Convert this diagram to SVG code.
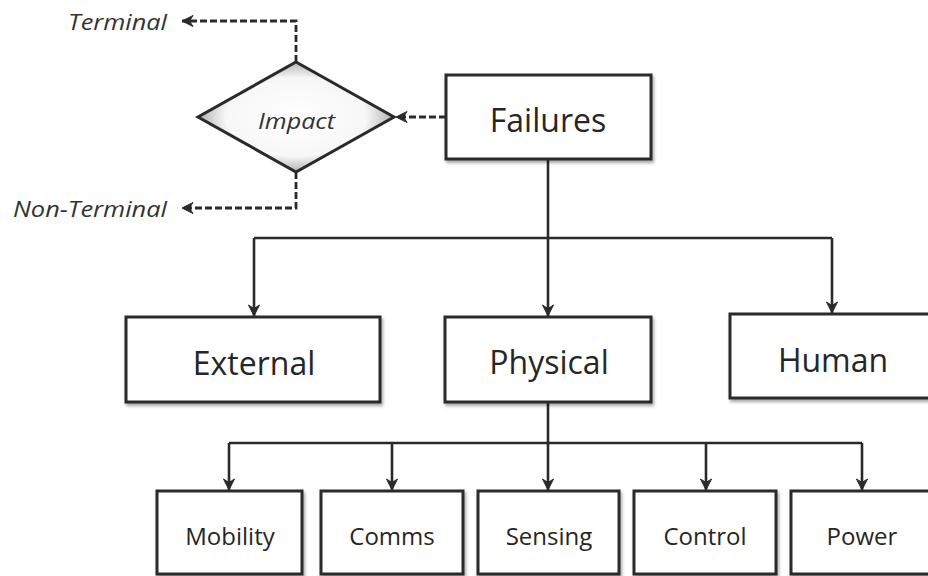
<svg xmlns="http://www.w3.org/2000/svg" width="928" height="576" viewBox="0 0 928 576">
  <defs>
    <style>
      .box { fill: #ffffff; stroke: #2a2a2a; stroke-width: 3; filter: url(#shadow); }
      .lbl { font-family: "Open Sans", "Liberation Sans", sans-serif; fill: #262626; text-anchor: middle; }
      .big { font-size: 32px; }
      .small { font-size: 24px; }
      .ital { font-family: "Open Sans", "Liberation Sans", sans-serif; font-style: italic; fill: #333333; font-size: 22px; }
      .conn { fill: none; stroke: #2a2a2a; stroke-width: 2.6; }
      .dash { fill: none; stroke: #2a2a2a; stroke-width: 2.8; stroke-dasharray: 7 3; }
    </style>
    <filter id="shadow" x="-10%" y="-10%" width="130%" height="140%">
      <feDropShadow dx="1.5" dy="2.5" stdDeviation="1.5" flood-color="#000000" flood-opacity="0.35"/>
    </filter>
    <radialGradient id="dgrad" cx="50%" cy="50%" r="55%">
      <stop offset="0%" stop-color="#ffffff"/>
      <stop offset="65%" stop-color="#f7f7f7"/>
      <stop offset="100%" stop-color="#9a9a9a"/>
    </radialGradient>
    <marker id="arr" markerUnits="userSpaceOnUse" markerWidth="14" markerHeight="14" refX="12" refY="7" orient="auto">
      <path d="M1,1.5 L12,7 L1,12.5 L4.5,7 Z" fill="#2a2a2a" stroke="#2a2a2a" stroke-width="1" stroke-linejoin="round"/>
    </marker>
  </defs>

  <g id="connectors">
    <path class="dash" d="M446,117 L396,117" marker-end="url(#arr)"/>
    <path class="dash" d="M296,62 L296,21 L182,21" marker-end="url(#arr)"/>
    <path class="dash" d="M296,172 L296,208 L182,208" marker-end="url(#arr)"/>
    <path class="conn" d="M548,159 L548,238"/>
    <path class="conn" d="M254,238 L832,238"/>
    <path class="conn" d="M254,238 L254,316" marker-end="url(#arr)"/>
    <path class="conn" d="M548,238 L548,316" marker-end="url(#arr)"/>
    <path class="conn" d="M832,238 L832,313" marker-end="url(#arr)"/>
    <path class="conn" d="M548,402 L548,443"/>
    <path class="conn" d="M229,443 L862,443"/>
    <path class="conn" d="M229,443 L229,490" marker-end="url(#arr)"/>
    <path class="conn" d="M392,443 L392,490" marker-end="url(#arr)"/>
    <path class="conn" d="M548,443 L548,490" marker-end="url(#arr)"/>
    <path class="conn" d="M706,443 L706,490" marker-end="url(#arr)"/>
    <path class="conn" d="M862,443 L862,490" marker-end="url(#arr)"/>
  </g>

  <g id="impact">
    <polygon points="296,62 394,117 296,172 198,117" fill="url(#dgrad)" stroke="#2a2a2a" stroke-width="3" stroke-linejoin="miter"/>
    <text class="ital" x="258" y="129" textLength="77" lengthAdjust="spacingAndGlyphs">Impact</text>
  </g>
  <g id="terminal">
    <text class="ital" x="68" y="30" textLength="99" lengthAdjust="spacingAndGlyphs">Terminal</text>
  </g>
  <g id="nonterminal">
    <text class="ital" x="13" y="217" textLength="154" lengthAdjust="spacingAndGlyphs">Non-Terminal</text>
  </g>

  <g id="failures">
    <rect class="box" x="446" y="75" width="205" height="84"/>
    <text class="lbl big" x="548" y="132">Failures</text>
  </g>
  <g id="external">
    <rect class="box" x="126" y="317" width="254" height="85"/>
    <text class="lbl big" x="254" y="375">External</text>
  </g>
  <g id="physical">
    <rect class="box" x="445" y="317" width="206" height="85"/>
    <text class="lbl big" x="549" y="374">Physical</text>
  </g>
  <g id="human">
    <rect class="box" x="730" y="314" width="212" height="84"/>
    <text class="lbl big" x="833" y="372">Human</text>
  </g>

  <g id="mobility">
    <rect class="box" x="157" y="491" width="145" height="83"/>
    <text class="lbl small" x="230" y="545">Mobility</text>
  </g>
  <g id="comms">
    <rect class="box" x="321" y="491" width="142" height="83"/>
    <text class="lbl small" x="392" y="545">Comms</text>
  </g>
  <g id="sensing">
    <rect class="box" x="478" y="491" width="141" height="83"/>
    <text class="lbl small" x="549" y="545">Sensing</text>
  </g>
  <g id="control">
    <rect class="box" x="634" y="491" width="142" height="83"/>
    <text class="lbl small" x="705" y="545">Control</text>
  </g>
  <g id="power">
    <rect class="box" x="791" y="491" width="150" height="83"/>
    <text class="lbl small" x="862" y="545">Power</text>
  </g>
</svg>
